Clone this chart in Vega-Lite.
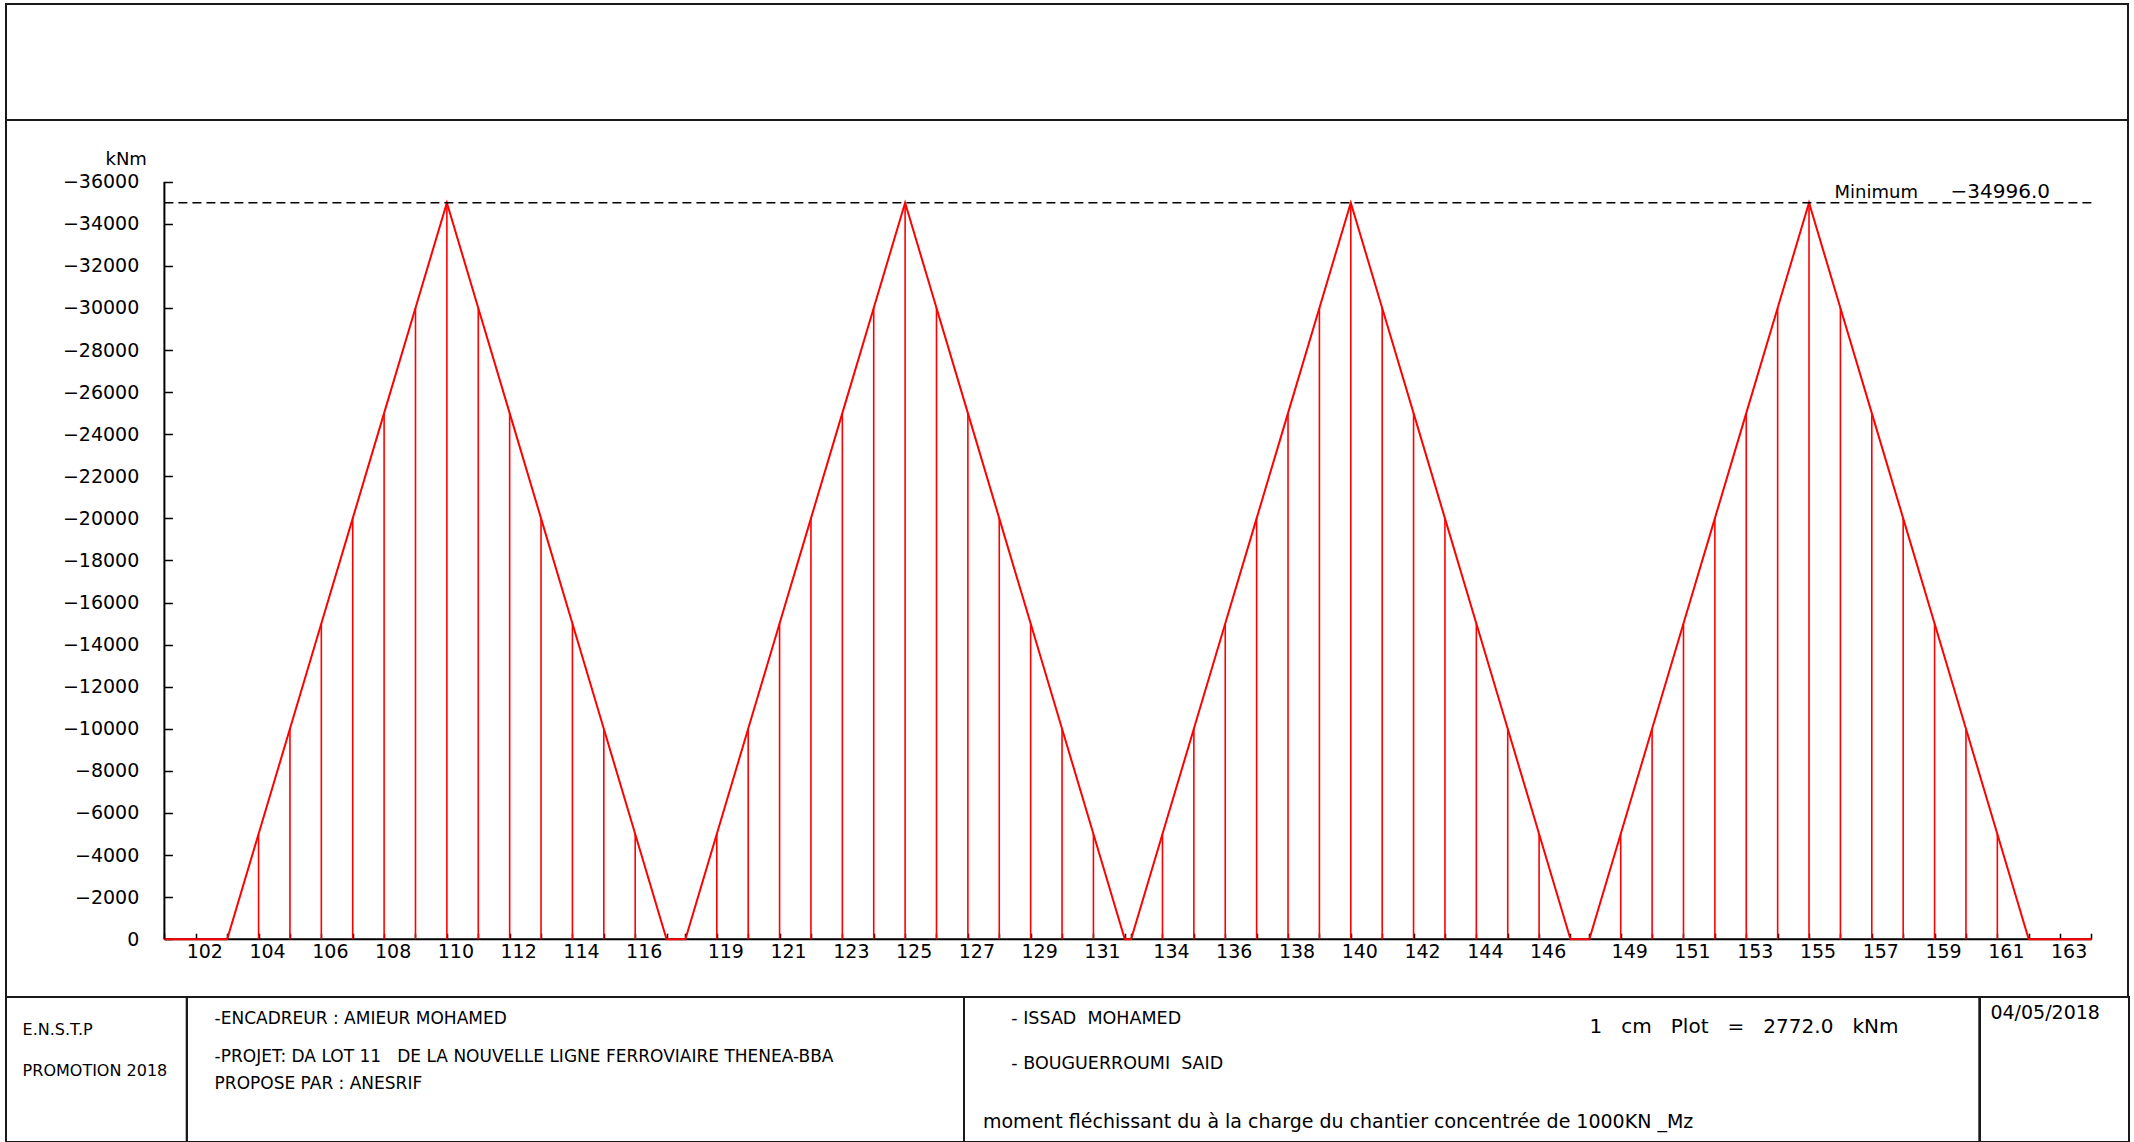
{
  "$schema": "https://vega.github.io/schema/vega-lite/v6.json",
  "padding": {"left": 5, "top": 3, "right": 0, "bottom": 0},
  "background": "white",
  "spacing": 0,
  "bounds": "flush",
  "config": {
    "view": {"stroke": "#1a1a1a", "strokeWidth": 2},
    "font": "DejaVu Sans",
    "text": {"color": "#000"}
  },
  "datasets": {
    "nodes": [
      {"node": 101, "x": 0, "m": 0, "lab": false},
      {"node": 102, "x": 1, "m": 0, "lab": true},
      {"node": 103, "x": 2, "m": 0, "lab": false},
      {"node": 104, "x": 3, "m": -5000, "lab": true},
      {"node": 105, "x": 4, "m": -10000, "lab": false},
      {"node": 106, "x": 5, "m": -15000, "lab": true},
      {"node": 107, "x": 6, "m": -20000, "lab": false},
      {"node": 108, "x": 7, "m": -25000, "lab": true},
      {"node": 109, "x": 8, "m": -30000, "lab": false},
      {"node": 110, "x": 9, "m": -34996, "lab": true},
      {"node": 111, "x": 10, "m": -30000, "lab": false},
      {"node": 112, "x": 11, "m": -25000, "lab": true},
      {"node": 113, "x": 12, "m": -20000, "lab": false},
      {"node": 114, "x": 13, "m": -15000, "lab": true},
      {"node": 115, "x": 14, "m": -10000, "lab": false},
      {"node": 116, "x": 15, "m": -5000, "lab": true},
      {"node": 117, "x": 16, "m": 0, "lab": false},
      {"node": 118, "x": 16.6, "m": 0, "lab": false},
      {"node": 119, "x": 17.6, "m": -5000, "lab": true},
      {"node": 120, "x": 18.6, "m": -10000, "lab": false},
      {"node": 121, "x": 19.6, "m": -15000, "lab": true},
      {"node": 122, "x": 20.6, "m": -20000, "lab": false},
      {"node": 123, "x": 21.6, "m": -25000, "lab": true},
      {"node": 124, "x": 22.6, "m": -30000, "lab": false},
      {"node": 125, "x": 23.6, "m": -34996, "lab": true},
      {"node": 126, "x": 24.6, "m": -30000, "lab": false},
      {"node": 127, "x": 25.6, "m": -25000, "lab": true},
      {"node": 128, "x": 26.6, "m": -20000, "lab": false},
      {"node": 129, "x": 27.6, "m": -15000, "lab": true},
      {"node": 130, "x": 28.6, "m": -10000, "lab": false},
      {"node": 131, "x": 29.6, "m": -5000, "lab": true},
      {"node": 132, "x": 30.6, "m": 0, "lab": false},
      {"node": 133, "x": 30.8, "m": 0, "lab": false},
      {"node": 134, "x": 31.8, "m": -5000, "lab": true},
      {"node": 135, "x": 32.8, "m": -10000, "lab": false},
      {"node": 136, "x": 33.8, "m": -15000, "lab": true},
      {"node": 137, "x": 34.8, "m": -20000, "lab": false},
      {"node": 138, "x": 35.8, "m": -25000, "lab": true},
      {"node": 139, "x": 36.8, "m": -30000, "lab": false},
      {"node": 140, "x": 37.8, "m": -34996, "lab": true},
      {"node": 141, "x": 38.8, "m": -30000, "lab": false},
      {"node": 142, "x": 39.8, "m": -25000, "lab": true},
      {"node": 143, "x": 40.8, "m": -20000, "lab": false},
      {"node": 144, "x": 41.8, "m": -15000, "lab": true},
      {"node": 145, "x": 42.8, "m": -10000, "lab": false},
      {"node": 146, "x": 43.8, "m": -5000, "lab": true},
      {"node": 147, "x": 44.8, "m": 0, "lab": false},
      {"node": 148, "x": 45.4, "m": 0, "lab": false},
      {"node": 149, "x": 46.4, "m": -5000, "lab": true},
      {"node": 150, "x": 47.4, "m": -10000, "lab": false},
      {"node": 151, "x": 48.4, "m": -15000, "lab": true},
      {"node": 152, "x": 49.4, "m": -20000, "lab": false},
      {"node": 153, "x": 50.4, "m": -25000, "lab": true},
      {"node": 154, "x": 51.4, "m": -30000, "lab": false},
      {"node": 155, "x": 52.4, "m": -34996, "lab": true},
      {"node": 156, "x": 53.4, "m": -30000, "lab": false},
      {"node": 157, "x": 54.4, "m": -25000, "lab": true},
      {"node": 158, "x": 55.4, "m": -20000, "lab": false},
      {"node": 159, "x": 56.4, "m": -15000, "lab": true},
      {"node": 160, "x": 57.4, "m": -10000, "lab": false},
      {"node": 161, "x": 58.4, "m": -5000, "lab": true},
      {"node": 162, "x": 59.4, "m": 0, "lab": false},
      {"node": 163, "x": 60.4, "m": 0, "lab": true},
      {"node": 164, "x": 61.4, "m": 0, "lab": false}
    ]
  },
  "vconcat": [
    {
      "width": 2122,
      "height": 116,
      "view": {"stroke": "#1a1a1a", "strokeWidth": 2},
      "data": {"values": [{"t": ""}]},
      "mark": {"type": "text"},
      "encoding": {
        "x": {"datum": 0, "type": "quantitative", "scale": {"domain": [0, 1]}, "axis": null},
        "y": {"datum": 0, "type": "quantitative", "scale": {"domain": [0, 1]}, "axis": null},
        "text": {"field": "t"}
      }
    },
    {
      "width": 2122,
      "height": 877,
      "data": {"name": "nodes"},
      "encoding": {
        "x": {"field": "x", "type": "quantitative",
          "scale": {"domain": [-5.047, 62.563], "nice": false, "zero": false},
          "axis": {"orient": "bottom", "offset": -57.8, "domain": false, "grid": false, "labels": false, "title": null,
            "values": [0,1,2,3,4,5,6,7,8,9,10,11,12,13,14,15,16,16.6,17.6,18.6,19.6,20.6,21.6,22.6,23.6,24.6,25.6,26.6,27.6,28.6,29.6,30.6,30.8,31.8,32.8,33.8,34.8,35.8,36.8,37.8,38.8,39.8,40.8,41.8,42.8,43.8,44.8,45.4,46.4,47.4,48.4,49.4,50.4,51.4,52.4,53.4,54.4,55.4,56.4,57.4,58.4,59.4,60.4,61.4],
            "tickSize": -6, "tickColor": "#000", "tickWidth": 1.5}},
        "y": {"field": "m", "type": "quantitative",
          "scale": {"domain": [-38932, 2747], "reverse": true, "nice": false, "zero": false},
          "axis": {"orient": "left", "offset": -158.4, "domain": false, "grid": false,
            "values": [-36000,-34000,-32000,-30000,-28000,-26000,-24000,-22000,-20000,-18000,-16000,-14000,-12000,-10000,-8000,-6000,-4000,-2000,0],
            "format": "d", "tickSize": -8, "tickColor": "#000", "tickWidth": 1.5,
            "labelPadding": 33.6, "labelFontSize": 19, "labelFont": "DejaVu Sans", "labelColor": "#000",
            "title": "kNm", "titleAngle": 0, "titleAlign": "right", "titleBaseline": "alphabetic",
            "titleX": -18, "titleY": 44.3, "titleFontSize": 18, "titleFontWeight": "normal", "titleFont": "DejaVu Sans", "titleColor": "#000"}}
      },
      "layer": [
        {
          "transform": [{"aggregate": [{"op": "min", "field": "x", "as": "x"}, {"op": "max", "field": "x", "as": "xmax"}]}],
          "mark": {"type": "rule", "color": "#000", "strokeWidth": 2},
          "encoding": {
            "x2": {"field": "xmax"},
            "y": {"datum": 0}
          }
        },
        {
          "transform": [{"aggregate": [{"op": "min", "field": "x", "as": "x"}]}],
          "mark": {"type": "rule", "color": "#000", "strokeWidth": 2},
          "encoding": {
            "y": {"datum": 0},
            "y2": {"datum": -36000}
          }
        },
        {
          "transform": [{"filter": "datum.m != 0"}],
          "mark": {"type": "rule", "color": "#ff0000", "strokeWidth": 1.6},
          "encoding": {
            "y2": {"datum": 0}
          }
        },
        {
          "mark": {"type": "line", "color": "#ff0000", "strokeWidth": 2},
          "encoding": {
            "order": {"field": "x"}
          }
        },
        {
          "transform": [{"aggregate": [{"op": "min", "field": "m", "as": "m"}, {"op": "min", "field": "x", "as": "x"}, {"op": "max", "field": "x", "as": "xmax"}]}],
          "mark": {"type": "rule", "color": "#000", "strokeWidth": 1.5, "strokeDash": [9, 5]},
          "encoding": {
            "x2": {"field": "xmax"}
          }
        },
        {
          "transform": [{"aggregate": [{"op": "min", "field": "m", "as": "m"}, {"op": "max", "field": "x", "as": "xmax"}]}],
          "mark": {"type": "text", "align": "left", "baseline": "alphabetic", "fontSize": 18, "dx": -257, "dy": -5},
          "encoding": {
            "x": {"field": "xmax", "type": "quantitative"},
            "text": {"value": "Minimum"}
          }
        },
        {
          "transform": [{"aggregate": [{"op": "min", "field": "m", "as": "m"}, {"op": "max", "field": "x", "as": "xmax"}]}],
          "mark": {"type": "text", "align": "left", "baseline": "alphabetic", "fontSize": 20, "dx": -141, "dy": -5},
          "encoding": {
            "x": {"field": "xmax", "type": "quantitative"},
            "text": {"field": "m", "type": "quantitative", "format": ".1f"}
          }
        },
        {
          "transform": [{"filter": "datum.lab"}],
          "mark": {"type": "text", "align": "center", "baseline": "alphabetic", "fontSize": 19, "dx": 9, "dy": 19},
          "encoding": {
            "y": {"datum": 0},
            "text": {"field": "node", "type": "nominal"}
          }
        }
      ]
    },
    {
      "spacing": 0,
      "bounds": "flush",
      "hconcat": [
        {
          "width": 180.7,
          "height": 145,
          "data": {"values": [
            {"t": "E.N.S.T.P", "col": 0.092, "row": 0.262},
            {"t": "PROMOTION 2018", "col": 0.092, "row": 0.545}
          ]},
          "mark": {"type": "text", "align": "left", "baseline": "alphabetic", "fontSize": 16},
          "encoding": {
            "x": {"field": "col", "type": "quantitative", "scale": {"domain": [0, 1]}, "axis": null},
            "y": {"field": "row", "type": "quantitative", "scale": {"domain": [0, 1], "reverse": true}, "axis": null},
            "text": {"field": "t"}
          }
        },
        {
          "width": 777,
          "height": 145,
          "data": {"values": [
            {"t": "-ENCADREUR : AMIEUR MOHAMED", "col": 0.0355, "row": 0.188},
            {"t": "-PROJET: DA LOT 11\u00a0\u00a0 DE LA NOUVELLE LIGNE FERROVIAIRE THENEA-BBA", "col": 0.0355, "row": 0.448},
            {"t": "PROPOSE PAR : ANESRIF", "col": 0.0355, "row": 0.637}
          ]},
          "mark": {"type": "text", "align": "left", "baseline": "alphabetic", "fontSize": 17},
          "encoding": {
            "x": {"field": "col", "type": "quantitative", "scale": {"domain": [0, 1]}, "axis": null},
            "y": {"field": "row", "type": "quantitative", "scale": {"domain": [0, 1], "reverse": true}, "axis": null},
            "text": {"field": "t"}
          }
        },
        {
          "width": 1015.3,
          "height": 145,
          "layer": [
            {
              "data": {"values": [
                {"t": "- ISSAD\u00a0 MOHAMED", "col": 0.0466, "row": 0.188},
                {"t": "- BOUGUERROUMI\u00a0 SAID", "col": 0.0466, "row": 0.494}
              ]},
              "mark": {"type": "text", "align": "left", "baseline": "alphabetic", "fontSize": 17.5},
              "encoding": {
                "x": {"field": "col", "type": "quantitative", "scale": {"domain": [0, 1]}, "axis": null},
                "y": {"field": "row", "type": "quantitative", "scale": {"domain": [0, 1], "reverse": true}, "axis": null},
                "text": {"field": "t"}
              }
            },
            {
              "data": {"values": [
                {"t": "1\u00a0\u00a0 cm\u00a0\u00a0 Plot\u00a0\u00a0 =\u00a0\u00a0 2772.0\u00a0\u00a0 kNm", "col": 0.616, "row": 0.246}
              ]},
              "mark": {"type": "text", "align": "left", "baseline": "alphabetic", "fontSize": 20},
              "encoding": {
                "x": {"field": "col", "type": "quantitative", "scale": {"domain": [0, 1]}, "axis": null},
                "y": {"field": "row", "type": "quantitative", "scale": {"domain": [0, 1], "reverse": true}, "axis": null},
                "text": {"field": "t"}
              }
            },
            {
              "data": {"values": [
                {"t": "moment fléchissant du à la charge du chantier concentrée de 1000KN _Mz", "col": 0.0187, "row": 0.901}
              ]},
              "mark": {"type": "text", "align": "left", "baseline": "alphabetic", "fontSize": 19},
              "encoding": {
                "x": {"field": "col", "type": "quantitative", "scale": {"domain": [0, 1]}, "axis": null},
                "y": {"field": "row", "type": "quantitative", "scale": {"domain": [0, 1], "reverse": true}, "axis": null},
                "text": {"field": "t"}
              }
            }
          ]
        },
        {
          "width": 149,
          "height": 145,
          "data": {"values": [
            {"t": "04/05/2018", "col": 0.07, "row": 0.154}
          ]},
          "mark": {"type": "text", "align": "left", "baseline": "alphabetic", "fontSize": 19},
          "encoding": {
            "x": {"field": "col", "type": "quantitative", "scale": {"domain": [0, 1]}, "axis": null},
            "y": {"field": "row", "type": "quantitative", "scale": {"domain": [0, 1], "reverse": true}, "axis": null},
            "text": {"field": "t"}
          }
        }
      ]
    }
  ]
}
